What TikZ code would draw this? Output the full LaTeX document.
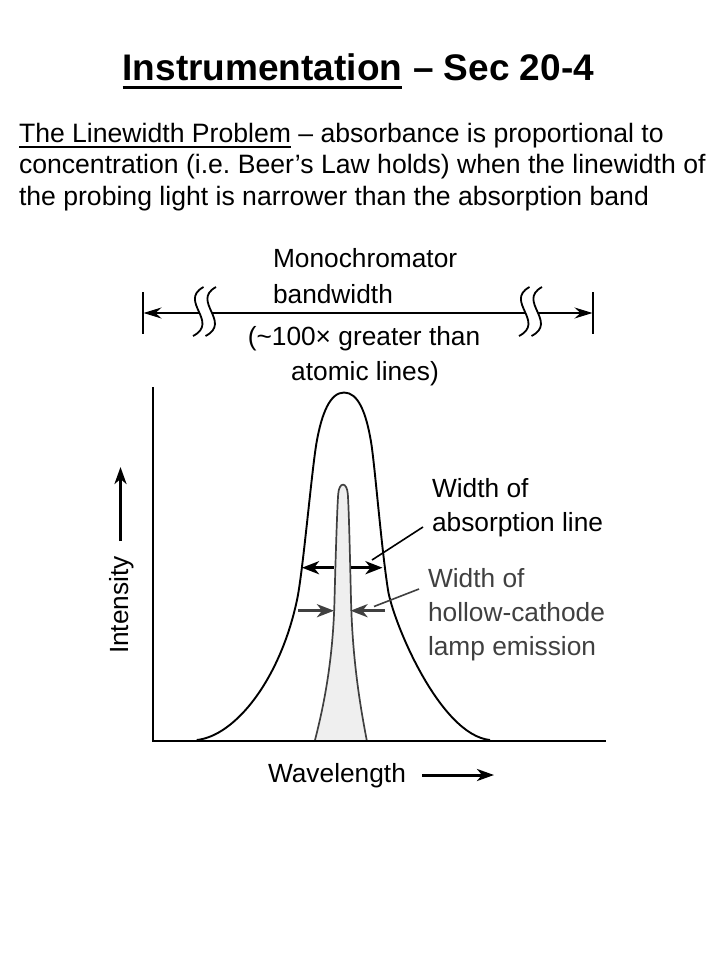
\documentclass[tikz,border=0pt]{standalone}
\usepackage{fontspec}
\setmainfont{Liberation Sans}
\usetikzlibrary{arrows.meta}
\definecolor{dgrey}{HTML}{404040}
\definecolor{lfill}{HTML}{EFEFEF}
\frenchspacing
\tikzset{
  txt/.style={inner sep=0pt, outer sep=0pt, anchor=base west, font=\fontsize{26.3}{31}\selectfont},
  para/.style={inner sep=0pt, outer sep=0pt, anchor=base west, font=\fontsize{26.6}{32}\selectfont},
  ttl/.style={inner sep=0pt, outer sep=0pt, anchor=base west, font=\fontsize{37}{44}\selectfont\bfseries},
  thickarrow/.style={line width=3.4pt, -{Stealth[length=17pt,width=13pt,inset=5pt]}},
  axisarrow/.style={line width=3pt, -{Stealth[length=17pt,width=12pt,inset=5pt]}},
  bandarrow/.style={line width=1.8pt, -{Stealth[length=18pt,width=11pt,inset=6pt]}},
  pointer/.style={line width=1.6pt},
  curve/.style={line width=1.9pt, line join=round},
  breakmark/.style={line width=1.8pt},
}
\begin{document}
\begin{tikzpicture}[x=1pt,y=-1pt]
\useasboundingbox[fill=white] (0,0) rectangle (720,960);

% ---- title ----
\node[ttl] (t1) at (122.7,80.7) {Instrumentation};
\node[ttl] (t2) at (413,80.7) {– Sec 20-4};
\draw[line width=3pt] ([yshift=-6.5pt]t1.base west) -- ([yshift=-6.5pt]t1.base east);

% ---- paragraph ----
\node[para] (p1a) at (19,142.5) {The Linewidth Problem};
\node[para] (p1b) at (p1a.base east) {\ – absorbance is proportional to};
\draw[line width=1.5pt] ([yshift=-4.5pt]p1a.base west) -- ([yshift=-4.5pt]p1a.base east);
\node[para] (p2) at (19,174) {concentration (i.e. Beer’s Law holds) when the linewidth of};
\node[para] (p3) at (19,205.5) {the probing light is narrower than the absorption band};

% ---- monochromator bandwidth ----
\node[txt] (mono1) at (273,267) {Monochromator};
\node[txt] (mono2) at (273,303) {bandwidth};
\node[txt, anchor=base] (mono3) at (364,345) {(\textasciitilde100× greater than};
\node[txt, anchor=base] (mono4) at (365,380) {atomic lines)};

\coordinate (tl) at (143,313);
\coordinate (tr) at (593,313);
\draw[line width=1.8pt] (143,292) -- (143,334);
\draw[line width=1.8pt] (593,292) -- (593,334);
\coordinate (b1) at (199,313);
\coordinate (b2) at (211.5,313);
\coordinate (b3) at (525,313);
\coordinate (b4) at (537.5,313);
\draw[bandarrow] (b1) -- ([xshift=0.5pt]tl);
\draw[line width=1.8pt] (b2) -- (b3);
\draw[bandarrow] (b4) -- ([xshift=-0.5pt]tr);
\foreach \cx in {199,211.5,525,537.5} {
  \draw[breakmark] (\cx+4.5,287) .. controls (\cx-21,301) and (\cx+21,322) .. (\cx-6,336);
}

% ---- narrow emission line ----
\fill[lfill] (315,740) .. controls (324,705) and (333,660) .. (334.5,600)
  .. controls (335.2,572) and (337,510) .. (338.2,494)
  .. controls (339.1,481.5) and (346.9,481.5) .. (347.8,494)
  .. controls (349,510) and (350.3,572) .. (351,600)
  .. controls (352.5,660) and (360,705) .. (366.7,740) -- cycle;
\draw[curve, dgrey, line width=1.7pt] (315,740) .. controls (324,705) and (333,660) .. (334.5,600)
  .. controls (335.2,572) and (337,510) .. (338.2,494)
  .. controls (339.1,481.5) and (346.9,481.5) .. (347.8,494)
  .. controls (349,510) and (350.3,572) .. (351,600)
  .. controls (352.5,660) and (360,705) .. (366.7,740);

% ---- broad absorption line ----
\draw[curve] (196.7,740) .. controls (235,736) and (280,680) .. (297,600)
  .. controls (303,572) and (311.7,469.7) .. (316.7,441.7)
  .. controls (321.7,413.7) and (330,392.5) .. (344,392.5)
  .. controls (358,392.5) and (366,412) .. (371,441.7)
  .. controls (375,466) and (381,545) .. (388,590)
  .. controls (393,622) and (440,735) .. (490,740);

% ---- axes ----
\coordinate (origin) at (153,740.5);
\coordinate (ytop) at (153,387);
\coordinate (xend) at (606,740.5);
\draw[line width=2pt] (ytop) -- (origin) -- (xend);

% ---- axis labels ----
\node[txt, anchor=base, rotate=90] (inten) at (128.3,605) {Intensity};
\coordinate (ia1) at (120.5,541);
\coordinate (ia2) at (120.5,467);
\draw[axisarrow] (ia1) -- (ia2);
\node[txt] (wave) at (268,782) {Wavelength};
\coordinate (wa1) at (422,775);
\coordinate (wa2) at (494,775);
\draw[axisarrow] (wa1) -- (wa2);

% ---- width arrows ----
\coordinate (ab1) at (333.5,567.7);
\coordinate (ab2) at (302,567.7);
\coordinate (ab3) at (351,567.7);
\coordinate (ab4) at (382.5,567.7);
\draw[thickarrow] (ab1) -- (ab2);
\draw[thickarrow] (ab3) -- (ab4);
\coordinate (em1) at (298,610.7);
\coordinate (em2) at (334,610.7);
\coordinate (em3) at (385,610.7);
\coordinate (em4) at (350.5,610.7);
\draw[thickarrow, dgrey] (em1) -- (em2);
\draw[thickarrow, dgrey] (em3) -- (em4);

% ---- labels ----
\node[txt] (abs1) at (432,497) {Width of};
\node[txt] (abs2) at (432,531) {absorption line};
\node[txt, text=dgrey] (lamp1) at (428,587) {Width of};
\node[txt, text=dgrey] (lamp2) at (428,621) {hollow-cathode};
\node[txt, text=dgrey] (lamp3) at (428,655) {lamp emission};
\coordinate (pa) at (372,560);
\coordinate (pl) at (374,606.5);
\draw[pointer] ([xshift=-9pt,yshift=4pt]abs2.base west) -- (pa);
\draw[pointer, dgrey] ([xshift=-9pt,yshift=-2pt]lamp1.base west) -- (pl);
\end{tikzpicture}
\end{document}
